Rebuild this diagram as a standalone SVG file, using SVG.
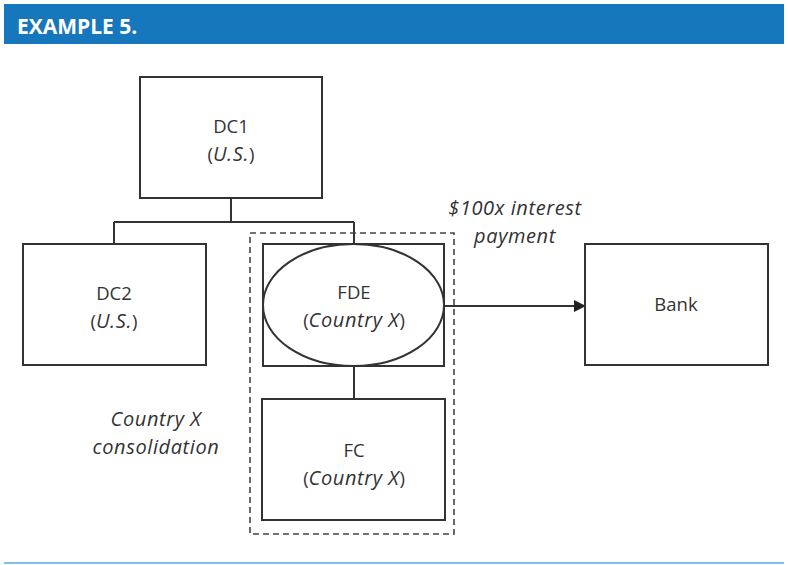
<svg xmlns="http://www.w3.org/2000/svg" width="788" height="565" viewBox="0 0 788 565">
  <style>
    .box { fill: #ffffff; stroke: #333333; stroke-width: 2; }
    .link { fill: none; stroke: #333333; stroke-width: 2; }
    .dash { fill: none; stroke: #444444; stroke-width: 1.6; stroke-dasharray: 6 4; }
    .lbl { font-family: "Open Sans", "Liberation Sans", sans-serif; font-size: 18.5px; fill: #333333; text-anchor: middle; }
    .it { font-style: italic; font-size: 20px; letter-spacing: 0.6px; }
    .title { font-family: "Open Sans", "Liberation Sans", sans-serif; font-size: 21px; font-weight: bold; fill: #ffffff; }
  </style>
  <defs>
    <marker id="arrow" markerWidth="12" markerHeight="12" refX="11" refY="6" orient="auto" markerUnits="userSpaceOnUse">
      <path d="M0,0 L12,6 L0,12 Z" fill="#222222"/>
    </marker>
  </defs>

  <rect x="0" y="0" width="788" height="565" fill="#ffffff"/>

  <!-- header bar -->
  <g id="header">
    <rect x="4" y="4" width="780" height="40" fill="#1777bc"/>
    <text class="title" x="17" y="34">EXAMPLE 5.</text>
  </g>
  <line x1="4" y1="563" x2="784" y2="563" stroke="#5aabe0" stroke-width="1.5"/>

  <!-- connectors -->
  <g id="connectors">
    <path class="link" d="M231,198 V222 M114,222 H354 M114,222 V244 M354,222 V244"/>
    <path class="link" d="M354,366 V399"/>
    <line class="link" x1="444" y1="306" x2="585" y2="306" marker-end="url(#arrow)"/>
  </g>

  <!-- consolidation boundary -->
  <g id="consolidation">
    <rect class="dash" x="250" y="233" width="204" height="301"/>
    <text class="lbl it" x="156" y="426">Country X</text>
    <text class="lbl it" x="156" y="454">consolidation</text>
  </g>

  <g id="dc1">
    <rect class="box" x="140" y="77" width="182" height="121"/>
    <text class="lbl" x="231" y="133">DC1</text>
    <text class="lbl" x="231" y="161">(<tspan class="it">U.S.</tspan>)</text>
  </g>

  <g id="dc2">
    <rect class="box" x="23" y="244" width="183" height="121"/>
    <text class="lbl" x="114" y="300">DC2</text>
    <text class="lbl" x="114" y="328">(<tspan class="it">U.S.</tspan>)</text>
  </g>

  <g id="fde">
    <rect class="box" x="263" y="244" width="181" height="122"/>
    <ellipse class="box" cx="353.5" cy="305" rx="90.5" ry="61"/>
    <text class="lbl" x="354" y="299">FDE</text>
    <text class="lbl" x="354" y="327">(<tspan class="it">Country X</tspan>)</text>
  </g>

  <g id="fc">
    <rect class="box" x="262" y="399" width="183" height="121"/>
    <text class="lbl" x="354" y="457">FC</text>
    <text class="lbl" x="354" y="485">(<tspan class="it">Country X</tspan>)</text>
  </g>

  <g id="bank">
    <rect class="box" x="585" y="244" width="183" height="121"/>
    <text class="lbl" x="676" y="311">Bank</text>
  </g>

  <g id="payment-label">
    <text class="lbl it" x="515" y="215">$100x interest</text>
    <text class="lbl it" x="515" y="243">payment</text>
  </g>
</svg>
